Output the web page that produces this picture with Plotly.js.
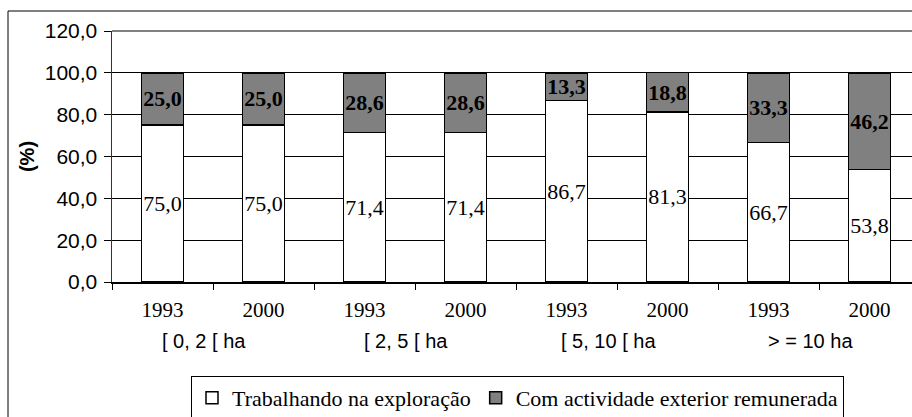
<!DOCTYPE html>
<html>
<head>
<meta charset="utf-8">
<script src="https://cdn.plot.ly/plotly-3.0.1.min.js"></script>
<style>
  html, body { margin: 0; padding: 0; overflow: hidden; background: #fff; }
  #grafico { width: 930px; height: 440px; }
</style>
</head>
<body>
<div id="grafico"></div>
<script>
// === Datos ===
const anos = ['1993', '2000', '1993', '2000', '1993', '2000', '1993', '2000'];
const grupos = ['[ 0, 2 [ ha', '[ 2, 5 [ ha', '[ 5, 10 [ ha', '> = 10 ha'];
const trabalhando = [75.0, 75.0, 71.4, 71.4, 86.7, 81.3, 66.7, 53.8];
const exterior = [25.0, 25.0, 28.6, 28.6, 13.3, 18.8, 33.3, 46.2];
const yTicks = [0, 20, 40, 60, 80, 100, 120];

const SERIF = '"Liberation Serif", "Times New Roman", serif';
const SANS = '"Liberation Sans", Arial, sans-serif';

// Geometria en píxeles (ancho total mayor que la ventana, se recorta a la derecha)
const W = 930, H = 440;
const M = { l: 112, r: 10, t: 31, b: 158 };
const plotW = W - M.l - M.r;
const plotH = H - M.t - M.b;

const idx = anos.map((_, i) => i);

const traces = [
  {
    type: 'bar',
    x: idx,
    y: trabalhando,
    name: 'Trabalhando na exploração',
    width: 0.415,
    marker: { color: '#ffffff', line: { color: '#000000', width: 1.5 } },
    texttemplate: '%{y:.1f}',
    textposition: 'inside',
    insidetextanchor: 'middle',
    constraintext: 'none',
    textangle: 0,
    textfont: { family: SERIF, size: 22, color: '#000' },
    hoverinfo: 'y'
  },
  {
    type: 'bar',
    x: idx,
    y: exterior,
    name: 'Com actividade exterior remunerada',
    width: 0.415,
    marker: { color: '#808080', line: { color: '#000000', width: 1.5 } },
    texttemplate: '<b>%{y:.1f}</b>',
    textposition: 'inside',
    insidetextanchor: 'middle',
    constraintext: 'none',
    textangle: 0,
    textfont: { family: SERIF, size: 22, color: '#000' },
    hoverinfo: 'y'
  }
];

// Etiquetas de grupo bajo los años
const anotaciones = grupos.map((g, i) => ({
  text: g,
  x: i * 2 + 0.5,
  xref: 'x',
  y: 0,
  yref: 'paper',
  yanchor: 'middle',
  yshift: -59,
  xshift: -9,
  showarrow: false,
  font: { family: SANS, size: 20, color: '#000' }
}));

const layout = {
  width: W,
  height: H,
  margin: M,
  barmode: 'stack',
  separators: ',.',
  showlegend: true,
  plot_bgcolor: '#ffffff',
  paper_bgcolor: '#ffffff',
  xaxis: {
    range: [-0.5, 7.5],
    tickvals: idx,
    ticktext: anos,
    ticks: '',
    ticklabelstandoff: 8,
    tickfont: { family: SERIF, size: 21, color: '#000' },
    showgrid: false,
    zeroline: false,
    showline: true,
    linecolor: '#000',
    linewidth: 1.5,
    minor: {
      tick0: -0.5,
      dtick: 1,
      ticks: 'outside',
      ticklen: 6,
      tickwidth: 1,
      tickcolor: '#000',
      showgrid: false
    },
    fixedrange: true
  },
  yaxis: {
    range: [0, 120],
    tickvals: yTicks,
    tickformat: '.1f',
    ticks: 'outside',
    ticklen: 7,
    tickwidth: 1,
    tickcolor: '#000',
    ticklabelstandoff: 2,
    tickfont: { family: SANS, size: 21, color: '#000' },
    showgrid: true,
    gridcolor: '#000',
    gridwidth: 1,
    zeroline: false,
    showline: true,
    linecolor: '#333',
    linewidth: 1.5,
    title: {
      text: '<b>(%)</b>',
      font: { family: SANS, size: 20, color: '#000' },
      standoff: 4
    },
    fixedrange: true
  },
  legend: {
    orientation: 'h',
    x: (191 - M.l) / plotW,
    y: (M.t + plotH - 376) / plotH,
    xanchor: 'left',
    yanchor: 'top',
    bgcolor: '#ffffff',
    bordercolor: '#000',
    borderwidth: 1,
    traceorder: 'normal',
    font: { family: SERIF, size: 22, color: '#000' }
  },
  annotations: anotaciones,
  shapes: [
    // Borde superior del área de trazado (gris)
    {
      type: 'line', xref: 'paper', yref: 'paper',
      x0: 0, x1: 1, y0: 1, y1: 1,
      line: { color: '#808080', width: 2 }
    },
    // Marco exterior del gráfico
    {
      type: 'rect', xref: 'paper', yref: 'paper',
      x0: (8 - M.l) / plotW, x1: 1.2,
      y0: -1, y1: (M.t + plotH - 11) / plotH,
      line: { color: '#000', width: 1 },
      fillcolor: 'rgba(0,0,0,0)'
    }
  ]
};

Plotly.newPlot('grafico', traces, layout, { displayModeBar: false, staticPlot: true });
</script>
</body>
</html>
